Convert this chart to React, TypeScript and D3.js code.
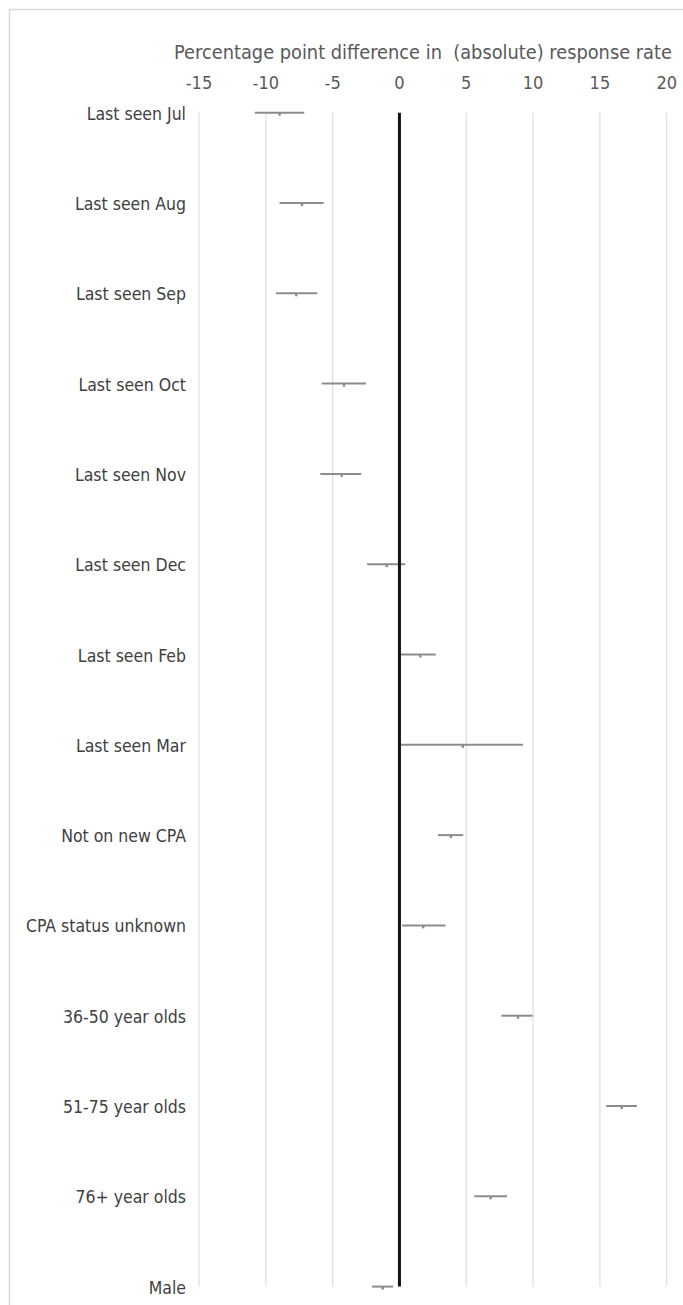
import React from "react";
import * as d3 from "d3";

const categories = [
  "Last seen Jul",
  "Last seen Aug",
  "Last seen Sep",
  "Last seen Oct",
  "Last seen Nov",
  "Last seen Dec",
  "Last seen Feb",
  "Last seen Mar",
  "Not on new CPA",
  "CPA status unknown",
  "36-50 year olds",
  "51-75 year olds",
  "76+ year olds",
  "Male",
];
const estimates = [-8.97, -7.29, -7.72, -4.15, -4.32, -0.95, 1.57, 4.74, 3.85, 1.78, 8.87, 16.64, 6.82, -1.25];
const lower = [-10.82, -8.97, -9.24, -5.82, -5.92, -2.42, 0.05, 0.1, 2.87, 0.2, 7.62, 15.47, 5.6, -2.05];
const upper = [-7.12, -5.67, -6.15, -2.5, -2.87, 0.43, 2.72, 9.24, 4.77, 3.45, 9.97, 17.77, 8.04, -0.47];
const tickValues = [-15, -10, -5, 0, 5, 10, 15, 20];
const axisTitle = "Percentage point difference in\u00a0 (absolute) response rate";

const W = 683;
const H = 1305;
const FONT = "'Liberation Sans Narrow', 'DejaVu Sans Condensed', 'Roboto Condensed', Roboto, sans-serif";

export default function App() {
  const x = d3.scaleLinear().domain([-15, 20]).range([199, 666.7]);
  const y = d3.scalePoint<string>().domain(categories).range([112.7, 1286.6]).padding(0);
  const [y0, y1] = y.range();

  return (
    <svg
      width={W}
      height={H}
      style={{ position: "absolute", left: 0, top: 0, background: "#fff" }}
      fontFamily={FONT}
    >
      <rect x={9.5} y={9.5} width={W + 10} height={H} fill="#fff" stroke="#d9d9d9" strokeWidth={1.5} />
      <text x={423} y={58.5} textAnchor="middle" fontSize={19.8} fill="#595959">
        {axisTitle}
      </text>
      {tickValues.map((t) => (
        <g key={t}>
          {t !== 0 && (
            <line x1={x(t)} x2={x(t)} y1={y0} y2={y1} stroke="#dedede" strokeWidth={1.2} />
          )}
          <text x={x(t)} y={89} textAnchor="middle" fontSize={18} fill="#595959">
            {t}
          </text>
        </g>
      ))}
      {categories.map((c, i) => {
        const cy = y(c)!;
        return (
          <g key={c}>
            <text x={186} y={cy + 7} textAnchor="end" fontSize={17.5} fill="#404040">
              {c}
            </text>
            <line x1={x(lower[i])} x2={x(upper[i])} y1={cy} y2={cy} stroke="#8c8c8c" strokeWidth={2} />
            <rect x={x(estimates[i]) - 1.2} y={cy} width={2.4} height={3} fill="#8c8c8c" />
          </g>
        );
      })}
      <line x1={x(0)} x2={x(0)} y1={y0} y2={y1} stroke="#111" strokeWidth={3} />
    </svg>
  );
}
